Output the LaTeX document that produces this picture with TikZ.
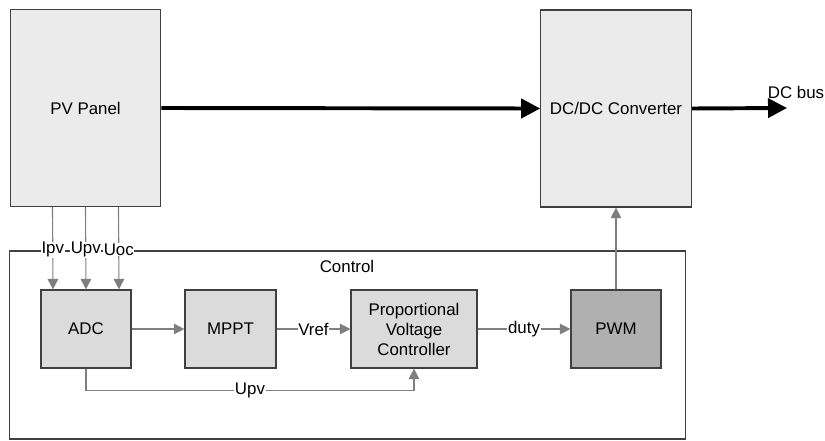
\documentclass[tikz,border=0pt]{standalone}
\usepackage{fontspec}
\setmainfont{Liberation Sans}
\usetikzlibrary{arrows.meta,calc}
\definecolor{edgegray}{HTML}{404040}
\definecolor{siggray}{HTML}{7F7F7F}
\tikzset{
  blk/.style={rectangle,draw=edgegray,line width=0.8pt,inner sep=0pt,align=center,font=\fontsize{12}{14.2}\selectfont},
  big/.style={fill=black!8,minimum width=3.76cm,minimum height=4.925cm},
  small/.style={fill=black!14,minimum height=1.95cm},
  dark/.style={fill=black!31,minimum height=1.95cm},
  lbl/.style={fill=white,inner sep=0.5pt,font=\fontsize{12}{14.2}\selectfont},
  sig/.style={draw=siggray,line width=0.8pt,-{Triangle[length=7.5pt,width=7.5pt]},color=siggray},
  pow/.style={line width=2.8pt,-{Triangle[length=13.5pt,width=13.5pt]}}
}
\begin{document}
\begin{tikzpicture}[x=0.025cm,y=-0.025cm]
\useasboundingbox (0,0) rectangle (825,441);
\node[blk,big] (pv) at (85.5,108) {PV Panel};
\node[blk,big] (dcdc) at (616,108.5) {DC/DC Converter};
\node[rectangle,draw=edgegray,line width=0.8pt,minimum width=16.875cm,minimum height=4.7cm] (ctrl) at (347.5,345) {};
\node[lbl] (ctrllbl) at (347,266) {Control};
\node[blk,small,minimum width=2.25cm] (adc) at (86,329) {ADC};
\node[blk,small,minimum width=2.275cm] (mppt) at (230.5,329) {MPPT};
\node[blk,small,minimum width=3.15cm] (pvc) at (414,329) {Proportional\\Voltage\\Controller};
\node[blk,dark,minimum width=2.25cm] (pwm) at (616,329) {PWM};
\coordinate (bus) at (787,108);
\node[lbl,fill=none] (buslbl) at (796,92) {DC bus};
\draw[pow] (pv.east) -- (dcdc.west);
\draw[pow] (dcdc.east) -- (bus);
\draw[sig] ($(pv.south)+(-33,0)$) -- node[lbl,text=black,pos=0.52] {Ipv} ($(adc.north)+(-33,0)$);
\draw[sig] (pv.south) -- node[lbl,text=black,pos=0.52] {Upv} (adc.north);
\draw[sig] ($(pv.south)+(33,0)$) -- node[lbl,text=black,pos=0.52] {Uoc} ($(adc.north)+(33,0)$);
\draw[sig] (adc.east) -- (mppt.west);
\draw[sig] (mppt.east) -- node[lbl,text=black] {Vref} (pvc.west);
\draw[sig] (pvc.east) -- node[lbl,text=black] {duty} (pwm.west);
\draw[sig] (adc.south) -- ++(0,22) -| node[lbl,text=black,pos=0.25] {Upv} (pvc.south);
\draw[sig] (pwm.north) -- (dcdc.south);
\end{tikzpicture}
\end{document}
